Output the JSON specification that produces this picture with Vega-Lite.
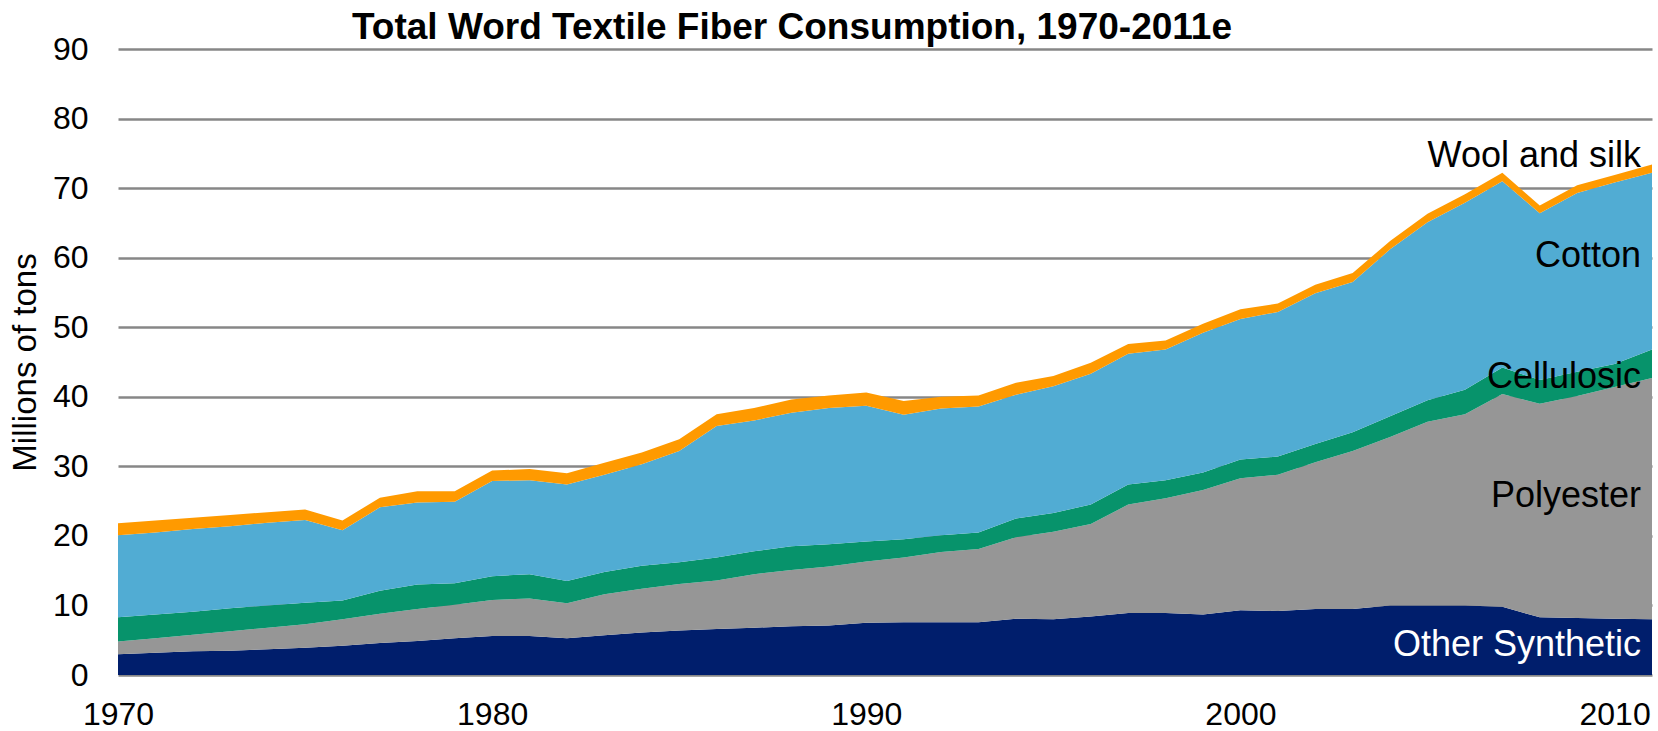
{
  "$schema": "https://vega.github.io/schema/vega-lite/v6.json",
  "width": 1534,
  "height": 626,
  "autosize": {"type": "none"},
  "padding": {"left": 118, "top": 49, "right": 6, "bottom": 56},
  "background": "white",
  "config": {"view": {"stroke": null}, "font": "Liberation Sans"},
  "title": {
    "text": "Total Word Textile Fiber Consumption, 1970-2011e",
    "anchor": "start",
    "frame": "group",
    "dx": 234,
    "offset": -42.5,
    "baseline": "alphabetic",
    "fontSize": 37,
    "fontWeight": "bold",
    "color": "black",
    "font": "Liberation Sans"
  },
  "layer": [
    {
      "data": {
        "values": [
          {"year": 1970, "Other Synthetic": 3.0, "Polyester": 1.8, "Cellulosic": 3.5, "Cotton": 11.8, "Wool and silk": 1.7},
          {"year": 1971, "Other Synthetic": 3.2, "Polyester": 2.1, "Cellulosic": 3.4, "Cotton": 11.8, "Wool and silk": 1.7},
          {"year": 1972, "Other Synthetic": 3.4, "Polyester": 2.4, "Cellulosic": 3.3, "Cotton": 11.9, "Wool and silk": 1.6},
          {"year": 1973, "Other Synthetic": 3.5, "Polyester": 2.8, "Cellulosic": 3.3, "Cotton": 11.8, "Wool and silk": 1.6},
          {"year": 1974, "Other Synthetic": 3.7, "Polyester": 3.1, "Cellulosic": 3.2, "Cotton": 11.9, "Wool and silk": 1.5},
          {"year": 1975, "Other Synthetic": 3.9, "Polyester": 3.4, "Cellulosic": 3.1, "Cotton": 11.9, "Wool and silk": 1.5},
          {"year": 1976, "Other Synthetic": 4.2, "Polyester": 3.8, "Cellulosic": 2.7, "Cotton": 10.1, "Wool and silk": 1.4},
          {"year": 1977, "Other Synthetic": 4.6, "Polyester": 4.2, "Cellulosic": 3.3, "Cotton": 12.0, "Wool and silk": 1.4},
          {"year": 1978, "Other Synthetic": 4.9, "Polyester": 4.6, "Cellulosic": 3.5, "Cotton": 11.8, "Wool and silk": 1.6},
          {"year": 1979, "Other Synthetic": 5.3, "Polyester": 4.8, "Cellulosic": 3.1, "Cotton": 11.7, "Wool and silk": 1.5},
          {"year": 1980, "Other Synthetic": 5.6, "Polyester": 5.2, "Cellulosic": 3.4, "Cotton": 13.7, "Wool and silk": 1.5},
          {"year": 1981, "Other Synthetic": 5.6, "Polyester": 5.4, "Cellulosic": 3.5, "Cotton": 13.5, "Wool and silk": 1.6},
          {"year": 1982, "Other Synthetic": 5.3, "Polyester": 5.0, "Cellulosic": 3.2, "Cotton": 13.9, "Wool and silk": 1.6},
          {"year": 1983, "Other Synthetic": 5.7, "Polyester": 5.9, "Cellulosic": 3.2, "Cotton": 14.0, "Wool and silk": 1.7},
          {"year": 1984, "Other Synthetic": 6.1, "Polyester": 6.3, "Cellulosic": 3.3, "Cotton": 14.6, "Wool and silk": 1.7},
          {"year": 1985, "Other Synthetic": 6.4, "Polyester": 6.7, "Cellulosic": 3.1, "Cotton": 16.0, "Wool and silk": 1.7},
          {"year": 1986, "Other Synthetic": 6.6, "Polyester": 7.0, "Cellulosic": 3.3, "Cotton": 18.9, "Wool and silk": 1.7},
          {"year": 1987, "Other Synthetic": 6.8, "Polyester": 7.7, "Cellulosic": 3.3, "Cotton": 18.8, "Wool and silk": 1.8},
          {"year": 1988, "Other Synthetic": 7.0, "Polyester": 8.1, "Cellulosic": 3.4, "Cotton": 19.2, "Wool and silk": 1.9},
          {"year": 1989, "Other Synthetic": 7.1, "Polyester": 8.5, "Cellulosic": 3.2, "Cotton": 19.6, "Wool and silk": 1.8},
          {"year": 1990, "Other Synthetic": 7.5, "Polyester": 8.8, "Cellulosic": 2.9, "Cotton": 19.5, "Wool and silk": 1.9},
          {"year": 1991, "Other Synthetic": 7.6, "Polyester": 9.3, "Cellulosic": 2.6, "Cotton": 17.9, "Wool and silk": 2.0},
          {"year": 1992, "Other Synthetic": 7.6, "Polyester": 10.1, "Cellulosic": 2.4, "Cotton": 18.2, "Wool and silk": 1.7},
          {"year": 1993, "Other Synthetic": 7.6, "Polyester": 10.5, "Cellulosic": 2.4, "Cotton": 18.1, "Wool and silk": 1.6},
          {"year": 1994, "Other Synthetic": 8.1, "Polyester": 11.7, "Cellulosic": 2.7, "Cotton": 17.8, "Wool and silk": 1.7},
          {"year": 1995, "Other Synthetic": 8.0, "Polyester": 12.6, "Cellulosic": 2.7, "Cotton": 18.2, "Wool and silk": 1.5},
          {"year": 1996, "Other Synthetic": 8.4, "Polyester": 13.3, "Cellulosic": 2.8, "Cotton": 18.8, "Wool and silk": 1.6},
          {"year": 1997, "Other Synthetic": 8.9, "Polyester": 15.6, "Cellulosic": 2.9, "Cotton": 18.8, "Wool and silk": 1.4},
          {"year": 1998, "Other Synthetic": 8.9, "Polyester": 16.5, "Cellulosic": 2.6, "Cotton": 18.8, "Wool and silk": 1.3},
          {"year": 1999, "Other Synthetic": 8.7, "Polyester": 17.9, "Cellulosic": 2.5, "Cotton": 20.1, "Wool and silk": 1.3},
          {"year": 2000, "Other Synthetic": 9.3, "Polyester": 19.0, "Cellulosic": 2.7, "Cotton": 20.2, "Wool and silk": 1.4},
          {"year": 2001, "Other Synthetic": 9.2, "Polyester": 19.6, "Cellulosic": 2.6, "Cotton": 20.8, "Wool and silk": 1.2},
          {"year": 2002, "Other Synthetic": 9.5, "Polyester": 21.1, "Cellulosic": 2.6, "Cotton": 21.7, "Wool and silk": 1.2},
          {"year": 2003, "Other Synthetic": 9.5, "Polyester": 22.7, "Cellulosic": 2.7, "Cotton": 21.6, "Wool and silk": 1.3},
          {"year": 2004, "Other Synthetic": 10.0, "Polyester": 24.2, "Cellulosic": 3.0, "Cotton": 24.0, "Wool and silk": 1.2},
          {"year": 2005, "Other Synthetic": 10.0, "Polyester": 26.4, "Cellulosic": 3.1, "Cotton": 25.6, "Wool and silk": 1.2},
          {"year": 2006, "Other Synthetic": 10.0, "Polyester": 27.5, "Cellulosic": 3.5, "Cotton": 26.9, "Wool and silk": 1.2},
          {"year": 2007, "Other Synthetic": 9.8, "Polyester": 30.6, "Cellulosic": 3.8, "Cotton": 26.8, "Wool and silk": 1.2},
          {"year": 2008, "Other Synthetic": 8.3, "Polyester": 30.7, "Cellulosic": 3.4, "Cotton": 24.0, "Wool and silk": 1.1},
          {"year": 2009, "Other Synthetic": 8.2, "Polyester": 31.9, "Cellulosic": 3.5, "Cotton": 25.7, "Wool and silk": 1.1},
          {"year": 2010, "Other Synthetic": 8.1, "Polyester": 33.3, "Cellulosic": 3.3, "Cotton": 26.1, "Wool and silk": 1.1},
          {"year": 2011, "Other Synthetic": 8.0, "Polyester": 34.7, "Cellulosic": 4.1, "Cotton": 25.4, "Wool and silk": 1.2}
        ]
      },
      "transform": [
        {"fold": ["Other Synthetic", "Polyester", "Cellulosic", "Cotton", "Wool and silk"], "as": ["fiber", "value"]},
        {"calculate": "indexof(['Other Synthetic','Polyester','Cellulosic','Cotton','Wool and silk'], datum.fiber)", "as": "stackOrder"}
      ],
      "mark": {"type": "area", "interpolate": "linear"},
      "encoding": {
        "x": {
          "field": "year",
          "type": "quantitative",
          "scale": {"domain": [1970, 2011], "nice": false, "zero": false},
          "axis": {
            "values": [1970, 1980, 1990, 2000, 2010],
            "format": "d",
            "title": null,
            "grid": false,
            "ticks": false,
            "domain": false,
            "labelFontSize": 32,
            "labelColor": "black",
            "labelFont": "Liberation Sans",
            "labelPadding": 24,
            "labelFlush": false,
            "labelOverlap": false
          }
        },
        "y": {
          "field": "value",
          "type": "quantitative",
          "stack": "zero",
          "scale": {"domain": [0, 90], "nice": false},
          "axis": {
            "values": [0, 10, 20, 30, 40, 50, 60, 70, 80, 90],
            "title": "Millions of tons",
            "titleFontSize": 33,
            "titleFontWeight": "normal",
            "titleColor": "black",
            "titleFont": "Liberation Sans",
            "titlePadding": 10,
            "grid": true,
            "gridColor": "#878787",
            "gridWidth": 2.5,
            "ticks": false,
            "domain": false,
            "labelFontSize": 32,
            "labelColor": "black",
            "labelFont": "Liberation Sans",
            "labelPadding": 30
          }
        },
        "color": {
          "field": "fiber",
          "type": "nominal",
          "scale": {
            "domain": ["Other Synthetic", "Polyester", "Cellulosic", "Cotton", "Wool and silk"],
            "range": ["#001E6C", "#969696", "#07936B", "#51ACD3", "#FF9A00"]
          },
          "legend": null
        },
        "order": {"field": "stackOrder", "type": "quantitative", "sort": "ascending"}
      }
    },
    {
      "data": {"values": [{}]},
      "mark": {"type": "text", "text": "Wool and silk", "align": "right", "baseline": "alphabetic", "dx": -11, "fontSize": 36, "color": "black", "font": "Liberation Sans"},
      "encoding": {"x": {"datum": 2011, "type": "quantitative"}, "y": {"datum": 73.0, "type": "quantitative"}}
    },
    {
      "data": {"values": [{}]},
      "mark": {"type": "text", "text": "Cotton", "align": "right", "baseline": "alphabetic", "dx": -11, "fontSize": 36, "color": "black", "font": "Liberation Sans"},
      "encoding": {"x": {"datum": 2011, "type": "quantitative"}, "y": {"datum": 58.6, "type": "quantitative"}}
    },
    {
      "data": {"values": [{}]},
      "mark": {"type": "text", "text": "Cellulosic", "align": "right", "baseline": "alphabetic", "dx": -11, "fontSize": 36, "color": "black", "font": "Liberation Sans"},
      "encoding": {"x": {"datum": 2011, "type": "quantitative"}, "y": {"datum": 41.3, "type": "quantitative"}}
    },
    {
      "data": {"values": [{}]},
      "mark": {"type": "text", "text": "Polyester", "align": "right", "baseline": "alphabetic", "dx": -11, "fontSize": 36, "color": "black", "font": "Liberation Sans"},
      "encoding": {"x": {"datum": 2011, "type": "quantitative"}, "y": {"datum": 24.2, "type": "quantitative"}}
    },
    {
      "data": {"values": [{}]},
      "mark": {"type": "text", "text": "Other Synthetic", "align": "right", "baseline": "alphabetic", "dx": -11, "fontSize": 36, "color": "white", "font": "Liberation Sans"},
      "encoding": {"x": {"datum": 2011, "type": "quantitative"}, "y": {"datum": 2.8, "type": "quantitative"}}
    }
  ]
}
